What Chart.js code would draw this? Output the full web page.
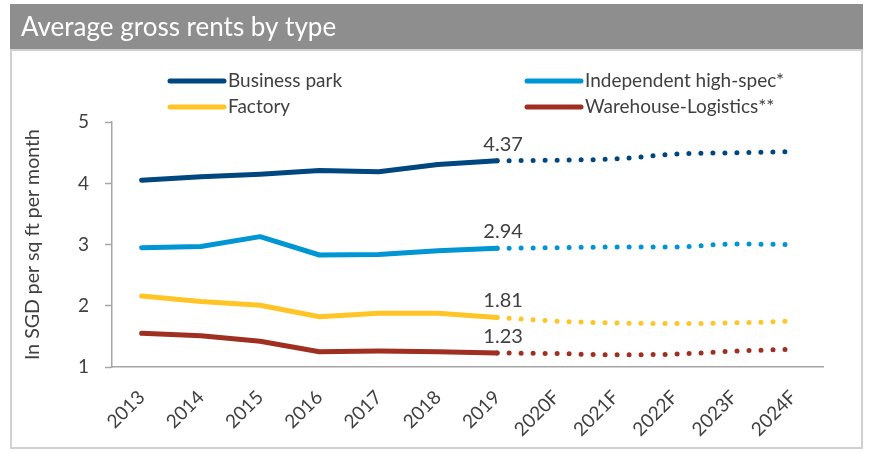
<!DOCTYPE html>
<html>
<head>
<meta charset="utf-8">
<script src="https://cdn.jsdelivr.net/npm/chart.js@4.4.1/dist/chart.umd.min.js"></script>
<style>
body { margin: 0; background: #fff; }
canvas { display: block; }
</style>
</head>
<body>
<canvas id="myChart" width="876" height="454"></canvas>
<script>
// categories
const years = ['2013', '2014', '2015', '2016', '2017', '2018', '2019', '2020F', '2021F', '2022F', '2023F', '2024F'];

// actual values 2013-2019
const businessPark = [4.05, 4.11, 4.15, 4.21, 4.19, 4.31, 4.37];
const independentHighSpec = [2.95, 2.97, 3.13, 2.83, 2.84, 2.90, 2.94];
const factory = [2.16, 2.07, 2.01, 1.82, 1.88, 1.88, 1.81];
const warehouseLogistics = [1.55, 1.51, 1.42, 1.25, 1.26, 1.25, 1.23];

// forecasts 2020F-2024F
const businessParkF = [4.38, 4.40, 4.48, 4.50, 4.52];
const independentHighSpecF = [2.95, 2.96, 2.96, 3.01, 3.00];
const factoryF = [1.75, 1.72, 1.71, 1.72, 1.75];
const warehouseLogisticsF = [1.22, 1.20, 1.21, 1.26, 1.29];

const seriesNames = ['Business park', 'Independent high-spec*', 'Factory', 'Warehouse-Logistics**'];
const seriesColors = ['#00467f', '#0095d3', '#ffc425', '#9f2f20'];
const yTicks = [1, 2, 3, 4, 5];

const actuals = [businessPark, independentHighSpec, factory, warehouseLogistics];
const forecasts = [businessParkF, independentHighSpecF, factoryF, warehouseLogisticsF];

const textColor = '#404040';
const axisColor = '#a6a6a6';

Chart.defaults.font.family = "Lato, 'Open Sans', sans-serif";

let datasets = [];
actuals.forEach((vals, i) => {
    datasets.push({
        label: seriesNames[i],
        data: vals,
        borderColor: seriesColors[i],
        backgroundColor: seriesColors[i],
        borderWidth: 5,
        borderCapStyle: 'round',
        borderJoinStyle: 'round',
        pointRadius: 0,
        fill: false
    });
});
forecasts.forEach((vals, i) => {
    // dotted forecast starts from the last actual point
    let data = Array(actuals[i].length - 1).fill(null);
    data.push(actuals[i][actuals[i].length - 1]);
    data = data.concat(vals);
    datasets.push({
        label: seriesNames[i] + ' forecast',
        data: data,
        borderColor: seriesColors[i],
        borderWidth: 5,
        borderCapStyle: 'round',
        borderDash: [0, 12],
        cubicInterpolationMode: 'monotone',
        pointRadius: 0,
        fill: false
    });
});

// gray title bar and frame
const backgroundPlugin = {
    id: 'panel',
    beforeDraw(chart) {
        const ctx = chart.ctx;
        ctx.save();
        ctx.fillStyle = '#fff';
        ctx.fillRect(0, 0, chart.width, chart.height);
        ctx.fillStyle = '#8e8e8e';
        ctx.fillRect(10, 4, 853, 46);
        ctx.strokeStyle = '#d0d0d0';
        ctx.lineWidth = 2;
        ctx.strokeRect(11, 50, 851, 398);
        ctx.restore();
    }
};

// two-column legend
const legendPlugin = {
    id: 'twoColLegend',
    afterDraw(chart) {
        const ctx = chart.ctx;
        const spots = [[170, 81], [527, 81], [170, 107], [527, 107]];
        ctx.save();
        ctx.font = '19px Lato';
        ctx.textBaseline = 'middle';
        ctx.fillStyle = textColor;
        for (let i = 0; i < 4; i++) {
            const [x, y] = spots[i];
            ctx.strokeStyle = chart.data.datasets[i].borderColor;
            ctx.lineWidth = 5;
            ctx.lineCap = 'round';
            ctx.beginPath();
            ctx.moveTo(x, y);
            ctx.lineTo(x + 54, y);
            ctx.stroke();
            ctx.fillText(chart.data.datasets[i].label, x + 58, y);
        }
        ctx.restore();
    }
};

// value labels on the last actual point
const valueLabelPlugin = {
    id: 'valueLabels',
    afterDatasetsDraw(chart) {
        const ctx = chart.ctx;
        ctx.save();
        ctx.font = '20px Lato';
        ctx.fillStyle = textColor;
        ctx.textAlign = 'center';
        ctx.textBaseline = 'alphabetic';
        for (let i = 0; i < 4; i++) {
            const vals = chart.data.datasets[i].data;
            const idx = vals.length - 1;
            const pt = chart.getDatasetMeta(i).data[idx];
            ctx.fillText(vals[idx].toFixed(2), pt.x + 6, pt.y - 10);
        }
        ctx.restore();
    }
};

const ctx = document.getElementById('myChart').getContext('2d');
const myChart = new Chart(ctx, {
    type: 'line',
    data: {
        labels: years,
        datasets: datasets
    },
    options: {
        responsive: false,
        animation: false,
        layout: {
            padding: { left: 21, right: 53, top: 0, bottom: 0 }
        },
        plugins: {
            legend: { display: false },
            tooltip: { enabled: false },
            title: {
                display: true,
                text: 'Average gross rents by type',
                align: 'start',
                color: '#fff',
                font: { size: 26, weight: 'normal' },
                padding: { top: 12, bottom: 79 }
            }
        },
        scales: {
            x: {
                offset: true,
                grid: { display: false },
                border: { display: true, color: axisColor, width: 1.5 },
                ticks: {
                    autoSkip: false,
                    maxRotation: 45,
                    minRotation: 45,
                    color: textColor,
                    font: { size: 19 },
                    padding: 11
                },
                afterFit(scale) { scale.height = 87; }
            },
            y: {
                min: 1,
                max: 5,
                afterBuildTicks(scale) {
                    scale.ticks = yTicks.map(v => ({ value: v }));
                },
                grid: {
                    drawOnChartArea: false,
                    drawTicks: true,
                    tickLength: 7,
                    tickColor: axisColor,
                    tickWidth: 1.5
                },
                border: { display: true, color: axisColor, width: 1.5 },
                ticks: {
                    color: textColor,
                    font: { size: 19 },
                    padding: 16
                },
                title: {
                    display: true,
                    text: 'In SGD per sq ft per month',
                    color: textColor,
                    font: { size: 19.5 },
                    padding: { top: 0, bottom: 0 }
                },
                afterFit(scale) { scale.width = 91; }
            }
        }
    },
    plugins: [backgroundPlugin, legendPlugin, valueLabelPlugin]
});
</script>
</body>
</html>
